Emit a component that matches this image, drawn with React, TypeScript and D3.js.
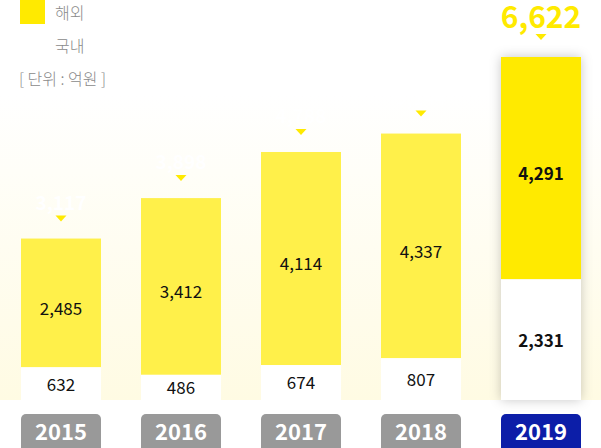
import React from "react";
import * as d3 from "d3";

const years = ["2015", "2016", "2017", "2018", "2019"];
const overseas = [2485, 3412, 4114, 4337, 4291];
const domestic = [632, 486, 674, 807, 2331];
const legendLabels = ["해외", "국내"];
const unitLabel = "[ 단위 : 억원 ]";

const W = 601;
const H = 448;
const FONT = "'Noto Sans CJK KR', 'Noto Sans', sans-serif";

export default function App() {
  const totals = years.map((_, i) => overseas[i] + domestic[i]);
  const x = d3.scaleBand<string>().domain(years).range([1, 601]).paddingInner(1 / 3).paddingOuter(1 / 6);
  const y = d3.scaleLinear().domain([0, d3.max(totals) as number]).range([400, 57]);
  const fmt = d3.format(",");
  const bw = x.bandwidth();
  const last = years.length - 1;

  return (
    <svg width={W} height={H} style={{ position: "absolute", left: 0, top: 0, fontFamily: FONT }}>
      <defs>
        <linearGradient id="bg" x1="0" y1="0" x2="0" y2="1">
          <stop offset="0" stopColor="#ffffff" />
          <stop offset="1" stopColor="#fffbe3" />
        </linearGradient>
        <filter id="sh" x="-30%" y="-10%" width="160%" height="120%">
          <feDropShadow dx="0" dy="0" stdDeviation="6" floodColor="#000" floodOpacity="0.22" />
        </filter>
      </defs>
      <rect x={0} y={0} width={W} height={H} fill="#fff" />
      <rect x={0} y={95} width={W} height={305} fill="url(#bg)" />

      {/* legend */}
      <rect x={20} y={0} width={25} height={24} fill="#ffea00" />
      <text x={55} y={13} dy="0.35em" fontSize={16} fontWeight={300} fill="#8a8a8a">{legendLabels[0]}</text>
      <rect x={20} y={34} width={25} height={24} fill="#fff" />
      <text x={55} y={46} dy="0.35em" fontSize={16} fontWeight={300} fill="#8a8a8a">{legendLabels[1]}</text>
      <text x={19} y={79} dy="0.35em" fontSize={16} fontWeight={300} fill="#8a8a8a">{unitLabel}</text>

      {years.map((yr, i) => {
        const hi = i === last;
        const x0 = x(yr) as number;
        const cx = x0 + bw / 2;
        const top = y(totals[i]);
        const mid = y(domestic[i]);
        const base = y(0);
        const yellow = hi ? "#ffea00" : "#fff04a";
        return (
          <g key={yr}>
            <g filter={hi ? "url(#sh)" : undefined}>
              <rect x={x0} y={top} width={bw} height={mid - top} fill={yellow} />
              <rect x={x0} y={mid} width={bw} height={base - mid} fill="#fff" />
            </g>
            <path
              d={`M${cx - 5.5},${top - 23} L${cx + 5.5},${top - 23} L${cx},${top - 17} Z`}
              fill="#ffea00"
            />
            <text
              x={cx}
              y={top - 29}
              textAnchor="middle"
              fontSize={hi ? 30 : 19}
              fontWeight={700}
              fill={hi ? "#ffea00" : "#ffffff"}
            >
              {fmt(totals[i])}
            </text>
            <text
              x={cx}
              y={(top + mid) / 2 + 6}
              dy="0.35em"
              textAnchor="middle"
              fontSize={17}
              fontWeight={hi ? 700 : 400}
              fill="#111"
            >
              {fmt(overseas[i])}
            </text>
            <text
              x={cx}
              y={(mid + base) / 2 + 1}
              dy="0.35em"
              textAnchor="middle"
              fontSize={17}
              fontWeight={hi ? 700 : 400}
              fill="#111"
            >
              {fmt(domestic[i])}
            </text>
            <rect x={x0} y={414} width={bw} height={40} rx={5} fill={hi ? "#0c1ea8" : "#999999"} />
            <text
              x={cx}
              y={432}
              dy="0.35em"
              textAnchor="middle"
              fontSize={22}
              fontWeight={700}
              fill="#fff"
            >
              {yr}
            </text>
          </g>
        );
      })}
    </svg>
  );
}
